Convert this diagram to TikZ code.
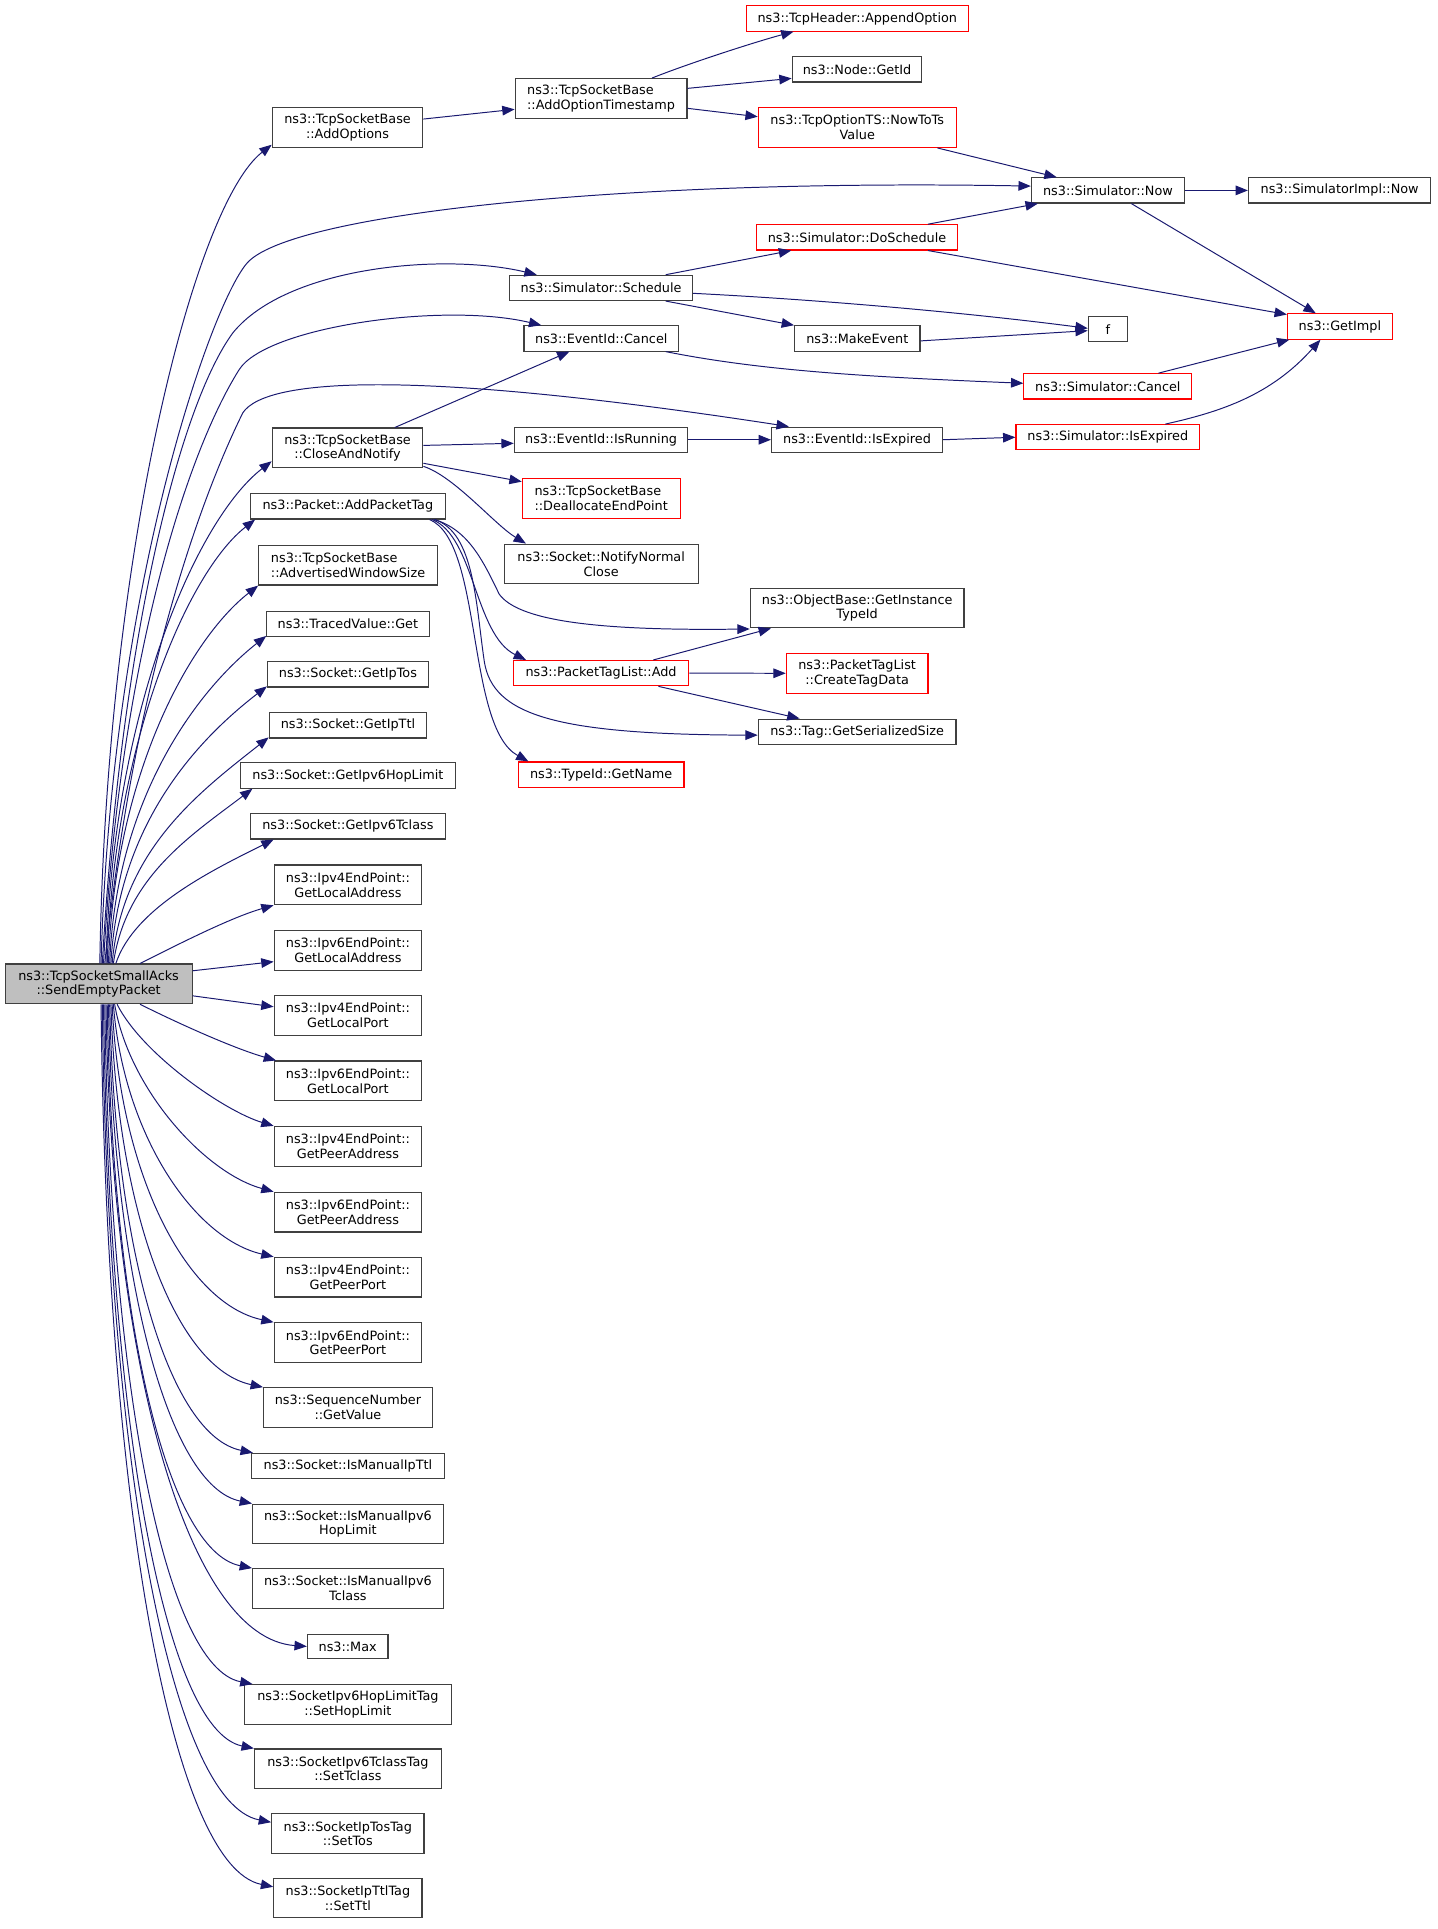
\documentclass[tikz,border=0pt]{standalone}
\usepackage{fontspec}
\setmainfont{DejaVu Sans}
\usetikzlibrary{arrows.meta,calc}
\definecolor{edgeblue}{HTML}{191970}
\definecolor{boxgray}{HTML}{404040}
\definecolor{maingray}{HTML}{BFBFBF}
\definecolor{boxred}{HTML}{FF0000}
\begin{document}
\begin{tikzpicture}[x=1pt,y=-1pt,
  box/.style={draw=boxgray, line width=0.9pt, fill=white, minimum height=20.5pt, inner sep=0pt, align=center, font=\fontsize{10.4pt}{12pt}\selectfont},
  box2/.style={box, minimum height=32.2pt},
  redbox/.style={draw=boxred},
  e/.style={draw=edgeblue, line width=0.8pt, -{Triangle[length=10pt,width=7.8pt]}}]
\fill[white] (0,0) rectangle (1166,1565.2);
\useasboundingbox (0,0) rectangle (1166,1565.2);

% main node
\node[box2, fill=maingray, minimum width=151.7pt] (m) at (80,798.3) {ns3::TcpSocketSmallAcks\\::SendEmptyPacket};

% column 2
\node[box2,minimum width=122.2pt] (addopt) at (282,103.6) {ns3::TcpSocketBase\\::AddOptions};
\node[box2,minimum width=122.2pt] (closen) at (282,363.4) {ns3::TcpSocketBase\\::CloseAndNotify};
\node[box,minimum width=157.7pt,minimum height=20.8pt] (addpkt) at (282.3,410.7) {ns3::Packet::AddPacketTag};
\node[box2,align=left,minimum width=145pt] (advwin) at (282.4,458.6) {ns3::TcpSocketBase\\::AdvertisedWindowSize};
\node[box,minimum width=131.7pt] (traced) at (282.3,506.3) {ns3::TracedValue::Get};
\node[box,minimum width=130.6pt] (iptos) at (282.3,547.2) {ns3::Socket::GetIpTos};
\node[box,minimum width=127.7pt] (ipttl) at (282.3,588.6) {ns3::Socket::GetIpTtl};
\node[box,minimum width=174.1pt] (hoplim) at (282.3,629.3) {ns3::Socket::GetIpv6HopLimit};
\node[box,minimum width=157.7pt] (tclass) at (282.3,670.5) {ns3::Socket::GetIpv6Tclass};
\node[box2,minimum width=119.7pt] (v4la) at (282.3,718) {ns3::Ipv4EndPoint::\\GetLocalAddress};
\node[box2,minimum width=119.7pt] (v6la) at (282.3,771.3) {ns3::Ipv6EndPoint::\\GetLocalAddress};
\node[box2,minimum width=119.7pt] (v4lp) at (282.3,824) {ns3::Ipv4EndPoint::\\GetLocalPort};
\node[box2,minimum width=119.7pt] (v6lp) at (282.3,877) {ns3::Ipv6EndPoint::\\GetLocalPort};
\node[box2,minimum width=119.7pt] (v4pa) at (282.3,930.1) {ns3::Ipv4EndPoint::\\GetPeerAddress};
\node[box2,minimum width=119.7pt] (v6pa) at (282.3,983.5) {ns3::Ipv6EndPoint::\\GetPeerAddress};
\node[box2,minimum width=119.7pt] (v4pp) at (282.3,1036.3) {ns3::Ipv4EndPoint::\\GetPeerPort};
\node[box2,minimum width=119.7pt] (v6pp) at (282.3,1089.4) {ns3::Ipv6EndPoint::\\GetPeerPort};
\node[box2,minimum width=137pt] (seqnum) at (282.3,1142.1) {ns3::SequenceNumber\\::GetValue};
\node[box,minimum width=156.1pt] (manttl) at (282.3,1189.5) {ns3::Socket::IsManualIpTtl};
\node[box2,minimum width=154.7pt] (manhop) at (282.3,1236.5) {ns3::Socket::IsManualIpv6\\HopLimit};
\node[box2,minimum width=154.7pt] (mantcl) at (282.3,1288.9) {ns3::Socket::IsManualIpv6\\Tclass};
\node[box,minimum width=65.4pt,minimum height=20pt] (max) at (282.1,1335.9) {ns3::Max};
\node[box2,minimum width=167.9pt] (sethop) at (282.3,1383) {ns3::SocketIpv6HopLimitTag\\::SetHopLimit};
\node[box2,minimum width=151.7pt] (settcl) at (282.3,1435.2) {ns3::SocketIpv6TclassTag\\::SetTclass};
\node[box2,minimum width=123.6pt] (settos) at (282.2,1487.8) {ns3::SocketIpTosTag\\::SetTos};
\node[box2,minimum width=120.3pt] (setttl) at (282.3,1540) {ns3::SocketIpTtlTag\\::SetTtl};

% column 3
\node[box2,align=left,minimum width=139.4pt] (addts) at (487.7,79.9) {ns3::TcpSocketBase\\::AddOptionTimestamp};
\node[box,minimum width=148.3pt] (sched) at (487.7,233.6) {ns3::Simulator::Schedule};
\node[box,minimum width=125.5pt] (evcancel) at (487.9,274.6) {ns3::EventId::Cancel};
\node[box,minimum width=140.8pt] (isrun) at (487.7,356.8) {ns3::EventId::IsRunning};
\node[box2,redbox,align=left,minimum width=128pt,minimum height=32.8pt] (dealloc) at (487.8,404.5) {ns3::TcpSocketBase\\::DeallocateEndPoint};
\node[box2,minimum width=157.2pt] (notify) at (487.8,457.6) {ns3::Socket::NotifyNormal\\Close};
\node[box,redbox,minimum width=142.3pt] (pktadd) at (487.7,546.2) {ns3::PacketTagList::Add};
\node[box,redbox,minimum width=134.4pt] (getname) at (487.8,628.5) {ns3::TypeId::GetName};

% column 4
\node[box,redbox,minimum width=179.8pt] (append) at (695.6,15) {ns3::TcpHeader::AppendOption};
\node[box,minimum width=105.2pt] (getid) at (695.4,56.3) {ns3::Node::GetId};
\node[box2,redbox,minimum width=160.6pt] (nowts) at (695.6,103.5) {ns3::TcpOptionTS::NowToTs\\Value};
\node[box,redbox,minimum width=163.2pt] (dosched) at (695.4,192.6) {ns3::Simulator::DoSchedule};
\node[box,minimum width=101.8pt] (makeev) at (695.6,274.6) {ns3::MakeEvent};
\node[box,minimum width=138.8pt] (evexp) at (695.4,356.8) {ns3::EventId::IsExpired};
\node[box2,minimum width=173.4pt] (objbase) at (695.5,493.3) {ns3::ObjectBase::GetInstance\\TypeId};
\node[box2,redbox,minimum width=115pt] (createtag) at (695.5,546.3) {ns3::PacketTagList\\::CreateTagData};
\node[box,minimum width=160.4pt] (tagser) at (695.5,593.7) {ns3::Tag::GetSerializedSize};

% column 5
\node[box,minimum width=124.3pt] (simnow) at (899,154.5) {ns3::Simulator::Now};
\node[box,minimum width=31.7pt] (f) at (898.9,267.2) {f};
\node[box,redbox,minimum width=136.2pt] (simcancel) at (898.9,313.5) {ns3::Simulator::Cancel};
\node[box,redbox,minimum width=149.1pt] (simexp) at (898.9,354.8) {ns3::Simulator::IsExpired};

% column 6
\node[box,minimum width=148pt] (simimpl) at (1087,154.5) {ns3::SimulatorImpl::Now};
\node[box,redbox,minimum width=85.1pt] (getimpl) at (1087.2,264.9) {ns3::GetImpl};

% edges from main node (upwards)
\draw[e] ([xshift=1pt]m.north) .. controls +(5,-332) and +(-63,49) .. ([yshift=2.7pt]addopt.south west);
\draw[e] ([xshift=2pt]m.north) .. controls (90,480) and (170,250) .. (200,214) .. controls (233,174) and (500,145) .. ([yshift=3.5pt]simnow.west);
\draw[e] ([xshift=3pt]m.north) .. controls (98,520) and (145,330) .. (189,270) .. controls (233,216) and (360,205) .. ([xshift=22.4pt]sched.north west);
\draw[e] ([xshift=4pt]m.north) .. controls (97,540) and (150,370) .. (194,300) .. controls (216,265) and (360,245) .. ([xshift=14.5pt]evcancel.north west);
\draw[e] ([xshift=5pt]m.north) .. controls (108,560) and (160,410) .. (197,335) .. controls (216,306) and (340,300) .. ([xshift=14.5pt]evexp.north west);
\draw[e] ([xshift=6pt]m.north) .. controls +(5,-204) and +(-61,47) .. ([yshift=5.7pt]closen.south west);
\draw[e] ([xshift=7pt]m.north) .. controls +(5,-180) and +(-54,42) .. ([xshift=4pt]addpkt.south west);
\draw[e] ([xshift=8pt]m.north) .. controls +(5,-154) and +(-55,43) .. (advwin.south west);
\draw[e] ([xshift=9pt]m.north) .. controls +(5,-133) and +(-57,45) .. ([yshift=1pt]traced.south west);
\draw[e] ([xshift=10pt]m.north) .. controls +(6,-113) and +(-57,44) .. ([yshift=1pt]iptos.south west);
\draw[e] ([xshift=11pt]m.north) .. controls +(8,-92) and +(-57,45) .. ([yshift=1pt]ipttl.south west);
\draw[e] ([xshift=12pt]m.north) .. controls +(10,-70) and +(-50,38) .. ([xshift=10pt]hoplim.south west);
\draw[e] ([xshift=14pt]m.north) .. controls +(15,-45) and +(-50,25) .. ([xshift=19pt]tclass.south west);
\draw[e] ([xshift=33.6pt]m.north) .. controls +(30,-15) and +(-35,10) .. (v4la.south west);

% edges from main node (right side)
\draw[e] ([yshift=10.6pt]m.east) -- ([yshift=-9pt]v6la.west);
\draw[e] ([yshift=-9.7pt]m.east) -- ([yshift=7.1pt]v4lp.west);

% edges from main node (downwards)
\draw[e] ([xshift=33.6pt]m.south) .. controls +(30,15) and +(-35,-10) .. ([xshift=2pt]v6lp.north west);
\draw[e] ([xshift=15pt]m.south) .. controls +(20,40) and +(-40,-12) .. (v4pa.north west);
\draw[e] ([xshift=13pt]m.south) .. controls +(12,70) and +(-55,-15) .. (v6pa.north west);
\draw[e] ([xshift=12pt]m.south) .. controls +(8,105) and +(-65,-15) .. (v4pp.north west);
\draw[e] ([xshift=11pt]m.south) .. controls +(6,140) and +(-70,-15) .. (v6pp.north west);
\draw[e] ([xshift=10pt]m.south) .. controls +(5,171) and +(-70,-15) .. (seqnum.north west);
\draw[e] ([xshift=9pt]m.south) .. controls +(4,200) and +(-68,-14) .. ([xshift=1.4pt]manttl.north west);
\draw[e] ([xshift=8pt]m.south) .. controls +(4,223) and +(-68,-14) .. (manhop.north west);
\draw[e] ([xshift=7pt]m.south) .. controls +(4,252) and +(-70,-14) .. (mantcl.north west);
\draw[e] ([xshift=6pt]m.south) .. controls +(4,287) and +(-98,-7) .. (max.west);
\draw[e] ([xshift=5pt]m.south) .. controls +(4,304) and +(-72,-14) .. ([xshift=7pt]sethop.north west);
\draw[e] ([xshift=4pt]m.south) .. controls +(4,333) and +(-73,-15) .. (settcl.north west);
\draw[e] ([xshift=3pt]m.south) .. controls +(4,366) and +(-82,-16) .. ([yshift=-7.3pt]settos.north west);
\draw[e] ([xshift=2pt]m.south) .. controls +(4,394) and +(-84,-17) .. ([yshift=-7.5pt]setttl.north west);

% other edges
\draw[e] ([yshift=7pt]addopt.east) -- ([yshift=-8.8pt]addts.west);
\draw[e] ([xshift=41.3pt]addts.north) .. controls +(30,-12) and +(-30,8) .. ([xshift=38.6pt]append.south west);
\draw[e] ([yshift=8.2pt]addts.east) -- ([yshift=-7.3pt]getid.west);
\draw[e] ([yshift=-8pt]addts.east) -- ([yshift=8.8pt]nowts.west);
\draw[e] ([xshift=65pt]nowts.south) -- ([xshift=21pt]simnow.north west);
\draw[e] (simnow.east) -- (simimpl.west);
\draw[e] ([xshift=19pt]simnow.south) -- ([xshift=-19.6pt]getimpl.north);
\draw[e] ([xshift=57.6pt]dosched.north) -- ([xshift=5.7pt]simnow.south west);
\draw[e] ([xshift=57.6pt]dosched.south) -- ([yshift=-1pt]getimpl.north west);
\draw[e] ([xshift=52.5pt]sched.north) -- ([xshift=28.6pt]dosched.south west);
\draw[e] ([yshift=-4.4pt]sched.east) .. controls +(100,5) and +(-100,-13) .. ([yshift=0.8pt]f.west);
\draw[e] ([xshift=52.5pt]sched.south) -- (makeev.north west);
\draw[e] ([yshift=-2pt]makeev.east) -- ([yshift=-1.1pt]f.west);
\draw[e] ([xshift=52.3pt]evcancel.south) .. controls +(80,16) and +(-120,-5) .. ([yshift=2.5pt]simcancel.west);
\draw[e] ([xshift=41pt]simcancel.north) -- ([xshift=2pt]getimpl.south west);
\draw[e] ([xshift=46.7pt]simexp.north) .. controls +(45,-10) and +(-40,45) .. ([xshift=-15.8pt]getimpl.south);
\draw[e] (evexp.east) -- (simexp.west);
\draw[e] ([xshift=38.4pt]closen.north) -- ([xshift=-25.9pt]evcancel.south);
\draw[e] ([yshift=2pt]closen.east) -- ([yshift=-2.9pt]isrun.west);
\draw[e] ([yshift=-12.5pt]closen.east) -- ([yshift=13.7pt]dealloc.west);
\draw[e] ([yshift=-15pt]closen.east) .. controls +(25,8) and +(-25,-15) .. ([xshift=18pt]notify.north west);
\draw[e] (isrun.east) -- (evexp.west);

\draw[e] ([xshift=-9pt]addpkt.south east) .. controls (380,430) and (392,455) .. (405,482) .. controls (420,503) and (480,512) .. ([yshift=-0.5pt]objbase.south west);
\draw[e] ([xshift=-11pt]addpkt.south east) .. controls (385,435) and (385,515) .. ([xshift=10.7pt]pktadd.north west);
\draw[e] ([xshift=-9pt]addpkt.south east) .. controls (385,432) and (386,490) .. (393,537) .. controls (400,580) and (450,596) .. ([yshift=-2.8pt]tagser.west);
\draw[e] ([xshift=-13pt]addpkt.south east) .. controls (392,440) and (378,590) .. ([xshift=8.6pt]getname.north west);
\draw[e] ([xshift=42.4pt]pktadd.north) -- ([xshift=17.2pt]objbase.south west);
\draw[e] (pktadd.east) -- (createtag.west);
\draw[e] ([xshift=46.5pt]pktadd.south) -- ([xshift=33.9pt]tagser.north west);
\end{tikzpicture}
\end{document}
